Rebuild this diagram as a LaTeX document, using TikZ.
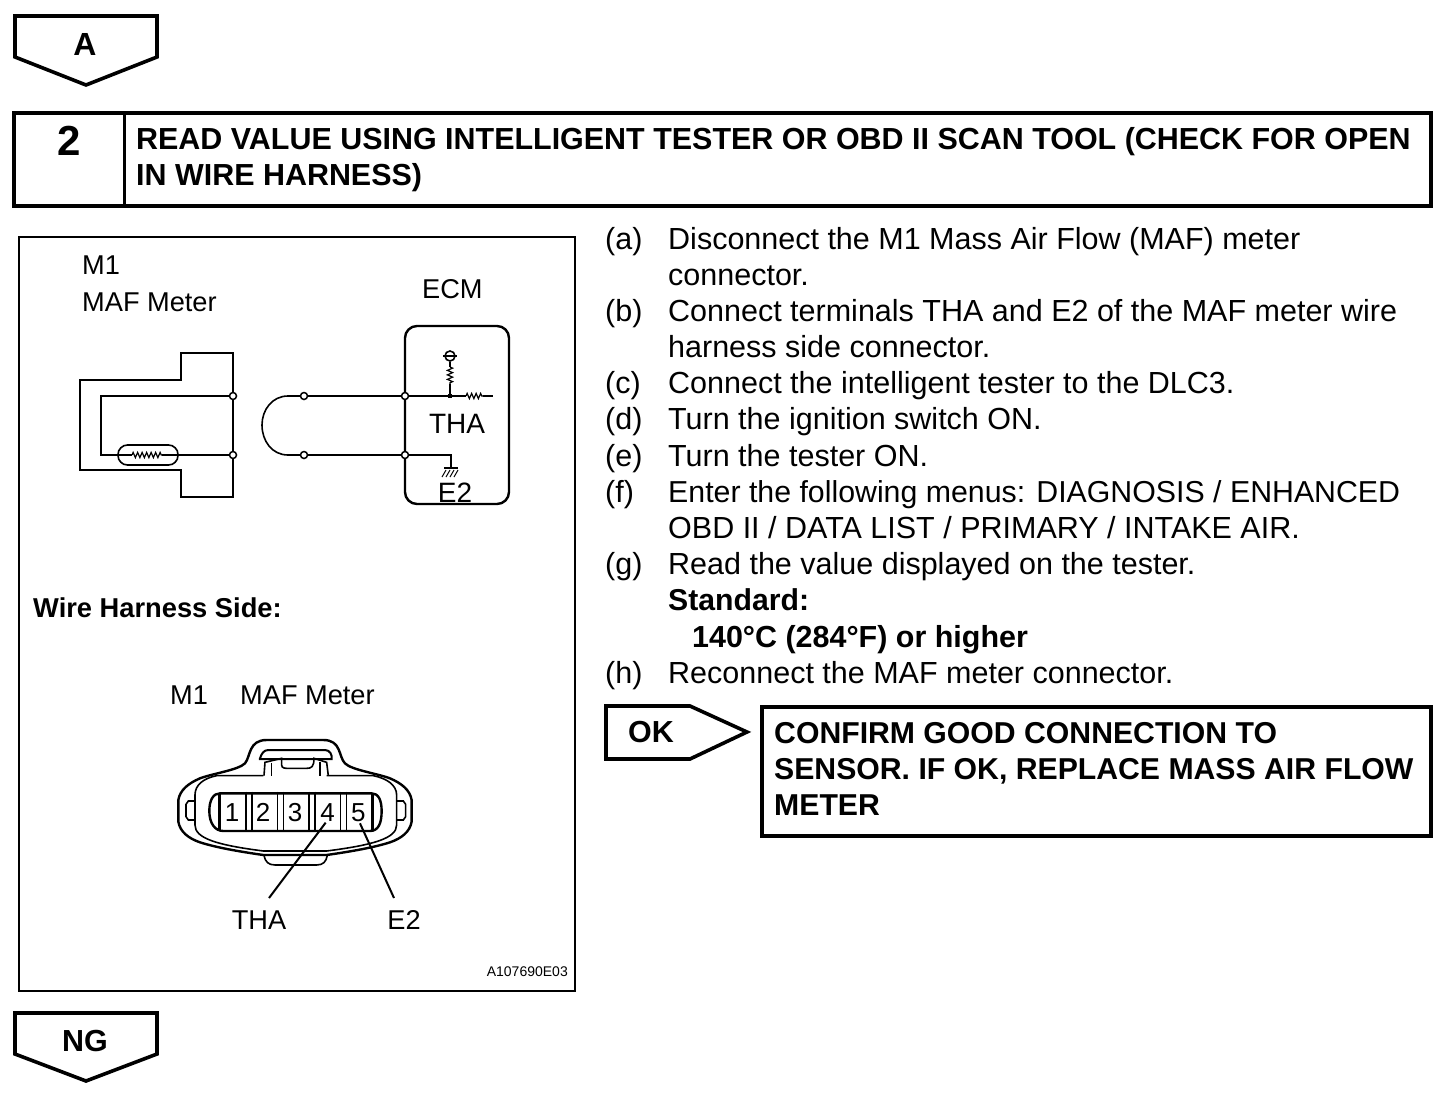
\documentclass[tikz,border=0pt]{standalone}
\usepackage{fontspec}
\setmainfont{Liberation Sans}
\usetikzlibrary{decorations.pathmorphing}
\newcommand{\bodyfont}{\fontsize{30.5}{36}\selectfont}
\newcommand{\headfont}{\fontsize{30.45}{36}\selectfont\bfseries}
\newcommand{\boxfont}{\fontsize{30.2}{36}\selectfont\bfseries}
\newcommand{\smallfont}{\fontsize{27.2}{30}\selectfont}
\tikzset{
  heavy/.style={draw=black,line width=4pt,line join=miter},
  flag/.style={draw=black,line width=3.6pt,line join=miter},
  frame/.style={draw=black,line width=2.5pt},
  wire/.style={draw=black,line width=1.6pt},
  outline/.style={draw=black,line width=2.4pt},
  term/.style={circle,draw=black,fill=white,line width=1.5pt,inner sep=0pt,minimum size=7pt},
  txt/.style={anchor=base west,inner sep=0pt,font=\bodyfont},
  btxt/.style={anchor=base west,inner sep=0pt,font=\headfont},
  ctxt/.style={anchor=base,inner sep=0pt,font=\bodyfont},
  res/.style={draw=black,line width=1.2pt,decorate,decoration={zigzag,segment length=4.5pt,amplitude=2.6pt}},
}
\begin{document}
\begin{tikzpicture}[x=1pt,y=-1pt]
\useasboundingbox (0,0) rectangle (1456,1098);
\fill[white] (0,0) rectangle (1456,1098);
% Off-page flags
\draw[flag] (15,16) -- (157,16) -- (157,57) -- (86,85) -- (15,57) -- cycle;
\node[ctxt,font=\fontsize{32}{36}\selectfont\bfseries] (flagA) at (85,55) {A};
\draw[flag] (15,1013) -- (157,1013) -- (157,1054) -- (86,1081) -- (15,1054) -- cycle;
\node[ctxt,font=\headfont] (flagNG) at (85,1051) {NG};
% Step header
\draw[heavy] (14,113) rectangle (1431,206);
\draw[heavy,line width=3pt] (124,113) -- (124,206);
\node[ctxt,font=\fontsize{42}{42}\selectfont\bfseries] (stepnum) at (69,155) {2};
\node[btxt] (h1) at (136,149) {READ VALUE USING INTELLIGENT TESTER OR OBD II SCAN TOOL (CHECK FOR OPEN};
\node[btxt] (h2) at (136,185) {IN WIRE HARNESS)};
% Illustration frame
\draw[frame] (19,237) rectangle (575,991);
\node[txt,font=\smallfont] (m1a) at (82,274) {M1};
\node[txt,font=\smallfont] (mafa) at (82,311) {MAF Meter};
\node[txt,font=\smallfont] (ecm) at (422,298) {ECM};
% MAF meter outline
\draw[outline] (233,353) -- (181,353) -- (181,380) -- (80,380) -- (80,470) -- (181,470) -- (181,497) -- (233,497) -- cycle;
\coordinate (capL) at (118,455);
\coordinate (capR) at (178,455);
\node[term] (t1) at (233,396) {};
\node[term] (t2) at (233,455) {};
\draw[wire] (t1) -- (101,396) -- (101,455) -- (capL);
\draw[wire] (capR) -- (t2);
\draw[wire,rounded corners=9.5pt] (118,445) rectangle (178,465);
\draw[wire] (capL) -- (132,455);
\draw[res] (132,455) -- (162,455);
\draw[wire] (162,455) -- (capR);
% Jumper
\node[term] (j1) at (304,396) {};
\node[term] (j2) at (304,455) {};
\draw[wire] (j1) -- (288,396) .. controls (272,396) and (262,410) .. (262,425) .. controls (262,441) and (272,455) .. (288,455) -- (j2);
% ECM
\draw[outline,rounded corners=12pt] (405,326) rectangle (509,504);
\node[term] (e1) at (405,396) {};
\node[term] (e2) at (405,455) {};
\node[fill=black,inner sep=0pt,minimum size=4.5pt] (dot) at (450,396) {};
\draw[wire] (j1) -- (e1);
\draw[wire] (j2) -- (e2);
\draw[wire] (e1) -- (dot);
\draw[wire] (dot) -- (466,396);
\draw[res] (466,396) -- (483,396);
\draw[wire] (483,396) -- (493,396);
\node[circle,draw=black,line width=1.6pt,inner sep=0pt,minimum size=10pt] (vc) at (450,356) {};
\draw[wire] (443,356) -- (457,356);
\draw[wire] (vc) -- (450,367);
\draw[res] (450,367) -- (450,384);
\draw[wire] (450,384) -- (dot);
\coordinate (gnd) at (451,468);
\draw[wire] (e2) -- (451,455) -- (gnd);
\draw[draw=black,line width=2.2pt] (444,468) -- (458,468);
\foreach \x in {446,450,454,458}{\draw[black,line width=1pt] (\x,470) -- (\x-4,477);}
\node[ctxt,font=\fontsize{28}{30}\selectfont] (tha1) at (457,433) {THA};
\node[ctxt,font=\fontsize{28}{30}\selectfont] (e2a) at (455,502) {E2};
% Wire harness
\node[txt,font=\fontsize{27.3}{30}\selectfont\bfseries] (whs) at (33,617) {Wire Harness Side:};
\node[txt,font=\smallfont] (m1b) at (170,704) {M1};
\node[txt,font=\smallfont] (mafb) at (240,704) {MAF Meter};
\begin{scope}[shift={(160,725)},x=0.3333pt,y=-0.3333pt]
 \draw[outline] (55,225) .. controls (60,195) and (85,175) .. (120,160) .. controls (160,145) and (235,135) .. (255,115) .. controls (272,95) and (265,45) .. (320,45) -- (490,45) .. controls (545,45) and (535,95) .. (555,115) .. controls (575,135) and (650,145) .. (690,160) .. controls (725,175) and (750,195) .. (755,225) -- (755,290) .. controls (750,320) and (725,340) .. (690,352) .. controls (640,368) and (570,380) .. (500,390) -- (310,390) .. controls (240,380) and (170,368) .. (120,352) .. controls (85,340) and (60,320) .. (55,290) -- cycle;
 \draw[wire] (105,210) .. controls (105,180) and (130,160) .. (170,152) -- (310,152) (500,152) -- (640,152) .. controls (680,160) and (710,180) .. (710,210) (710,300) .. controls (710,340) and (640,360) .. (500,378) -- (310,378) .. controls (170,360) and (105,340) .. (105,300) -- (105,210) (710,210) -- (710,300);
 \draw[wire] (105,228) -- (85,228) -- (78,238) -- (78,275) -- (85,285) -- (105,285);
 \draw[wire] (710,228) -- (730,228) -- (737,238) -- (737,275) -- (730,285) -- (710,285);
 \draw[wire] (312,392) .. controls (316,410) and (325,420) .. (345,420) -- (470,420) .. controls (490,420) and (498,410) .. (502,392);
 \draw[outline,line width=2pt] (300,100) .. controls (305,85) and (312,75) .. (325,75) -- (495,75) .. controls (510,75) and (517,90) .. (515,102) -- (300,102) -- cycle;
 \draw[wire] (312,152) -- (315,112) -- (365,100) -- (365,120) .. controls (365,130) and (375,130) .. (385,130) -- (440,130) .. controls (455,130) and (462,125) .. (462,100) -- (500,112) -- (505,152);
 \draw[wire] (335,152) -- (335,115) (480,152) -- (480,112);
 \draw[outline] (180,205) .. controls (160,205) and (148,225) .. (148,258) .. controls (148,295) and (165,318) .. (190,318) -- (630,318) .. controls (655,318) and (665,295) .. (665,258) .. controls (665,225) and (655,205) .. (635,205) -- cycle;
 \draw[outline,line width=3pt] (180,205) -- (180,318) (637,205) -- (637,318);
 \foreach \x in {258,352,447,542}{\draw[wire] (\x,200) -- (\x,318); \draw[wire] (\x+18,200) -- (\x+18,318);}
 \node[font=\fontsize{26}{26}\selectfont,inner sep=0pt] (p1) at (216,262) {1};
 \node[font=\fontsize{26}{26}\selectfont,inner sep=0pt] (p2) at (309,262) {2};
 \node[font=\fontsize{26}{26}\selectfont,inner sep=0pt] (p3) at (405,262) {3};
 \node[font=\fontsize{26}{26}\selectfont,inner sep=0pt] (p4) at (503,262) {4};
 \node[font=\fontsize{26}{26}\selectfont,inner sep=0pt] (p5) at (595,262) {5};
 \coordinate (p4t) at (497,293);
 \coordinate (p5t) at (600,295);
\end{scope}
\node[ctxt,font=\smallfont] (thab) at (259,929) {THA};
\node[ctxt,font=\smallfont] (e2b) at (404,929) {E2};
\coordinate (thal) at (269,898);
\coordinate (e2l) at (394,898);
\draw[wire,line width=2pt] (p4t) -- (thal);
\draw[wire,line width=2pt] (p5t) -- (e2l);
\node[anchor=base east,inner sep=0pt,font=\fontsize{14}{15}\selectfont] (code) at (568,976) {A107690E03};
% Steps
\node[txt] (la) at (605,249) {(a)};
\node[txt] (ta) at (668,249) {Disconnect the M1 Mass Air Flow (MAF) meter};
\node[txt] (ta2) at (668,285) {connector.};
\node[txt] (lb) at (605,321) {(b)};
\node[txt] (tb) at (668,321) {Connect terminals THA and E2 of the MAF meter wire};
\node[txt] (tb2) at (668,357) {harness side connector.};
\node[txt] (lc) at (605,393) {(c)};
\node[txt] (tc) at (668,393) {Connect the intelligent tester to the DLC3.};
\node[txt] (ld) at (605,429) {(d)};
\node[txt] (td) at (668,429) {Turn the ignition switch ON.};
\node[txt] (le) at (605,466) {(e)};
\node[txt] (te) at (668,466) {Turn the tester ON.};
\node[txt] (lf) at (605,502) {(f)};
\node[txt,font=\fontsize{30.3}{36}\selectfont] (tf) at (668,502) {Enter the following menus: DIAGNOSIS / ENHANCED};
\node[txt] (tf2) at (668,538) {OBD II / DATA LIST / PRIMARY / INTAKE AIR.};
\node[txt] (lg) at (605,574) {(g)};
\node[txt] (tg) at (668,574) {Read the value displayed on the tester.};
\node[btxt,font=\boxfont] (std) at (668,610) {Standard:};
\node[btxt] (val) at (692,647) {140\textdegree C (284\textdegree F) or higher};
\node[txt] (lh) at (605,683) {(h)};
\node[txt] (th) at (668,683) {Reconnect the MAF meter connector.};
% OK flag and box
\draw[flag] (606,706) -- (690,706) -- (747,732) -- (690,759) -- (606,759) -- cycle;
\node[btxt] (ok) at (628,742) {OK};
\draw[heavy] (762,707) rectangle (1431,836);
\node[btxt,font=\boxfont] (c1) at (774,743) {CONFIRM GOOD CONNECTION TO};
\node[btxt,font=\boxfont] (c2) at (774,779) {SENSOR. IF OK, REPLACE MASS AIR FLOW};
\node[btxt,font=\boxfont] (c3) at (774,815) {METER};
\end{tikzpicture}
\end{document}
